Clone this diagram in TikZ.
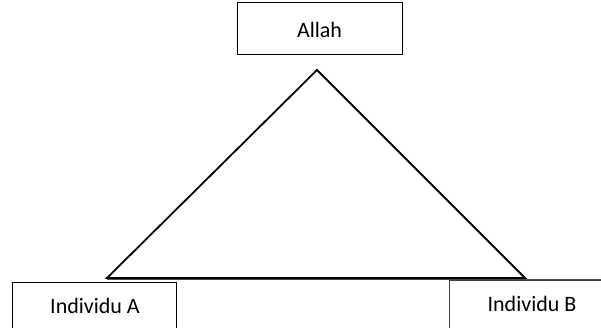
\documentclass[tikz,border=0pt]{standalone}
\usepackage{fontspec}
\setmainfont{Carlito}
\begin{document}
\begin{tikzpicture}[x=1pt,y=-1pt,
  boxshape/.style={draw=black,line width=0.8pt,rectangle,inner sep=0pt,anchor=north west},
  lbl/.style={font=\fontsize{22}{26}\selectfont,inner sep=0pt},
  tri/.style={draw=black,line width=1.8pt,line join=miter},
  grayline/.style={draw=black!70,line width=0.9pt}]
\useasboundingbox (0,0) rectangle (601,327);
\clip (0,0) rectangle (601,327);
% Allah box
\node[boxshape,minimum width=165pt,minimum height=52pt] (allahbox) at (237,2) {};
\node[lbl] (allah) at (319.5,29.5) {Allah};
% gray line under the triangle base
\coordinate (gl) at (107,279.5);
\coordinate (gr) at (601,279.5);
\draw[grayline] (gl) -- (gr);
% Individu A box (bottom outside the picture)
\node[boxshape,minimum width=164pt,minimum height=70pt] (boxa) at (12,282) {};
\node[lbl] (indA) at (95,306) {Individu A};
% Individu B box (right and bottom outside the picture)
\node[boxshape,draw=black!75,minimum width=175pt,minimum height=70pt] (boxb) at (449,280) {};
\node[lbl] (indB) at (532,303.5) {Individu B};
% triangle
\coordinate (apex) at (317,70);
\coordinate (bl) at (107,278);
\coordinate (br) at (525,278);
\draw[tri] (apex) -- (br) -- (bl) -- cycle;
\end{tikzpicture}
\end{document}
